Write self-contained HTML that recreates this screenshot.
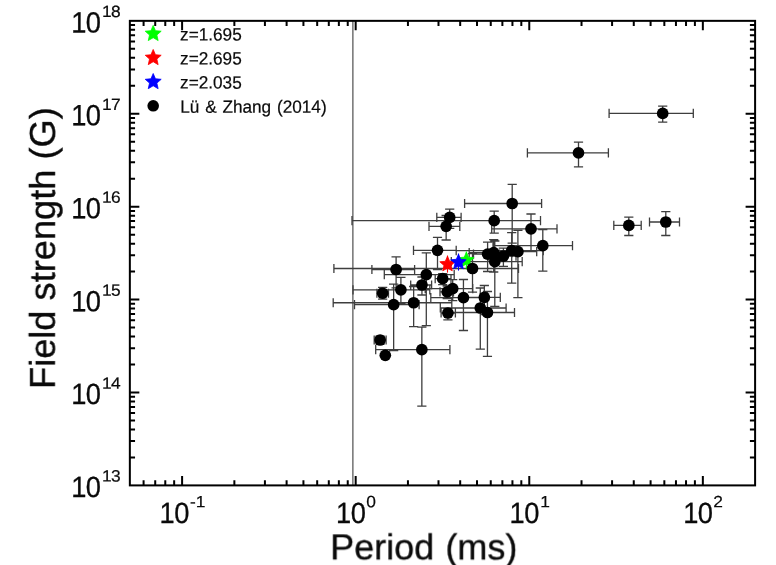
<!DOCTYPE html>
<html lang="en"><head><meta charset="utf-8"><title>Field strength vs Period</title>
<style>html,body{margin:0;padding:0;background:#fff;overflow:hidden}svg{display:block}text{font-family:"Liberation Sans",Arial,sans-serif;text-rendering:geometricPrecision}</style>
</head><body>
<svg width="776" height="565" viewBox="0 0 776 565">
<rect x="0" y="0" width="776" height="565" fill="#fff"/>
<defs><filter id="soft" x="0" y="0" width="100%" height="100%" filterUnits="userSpaceOnUse" color-interpolation-filters="sRGB"><feGaussianBlur stdDeviation="0.38"/></filter></defs>
<g filter="url(#soft)">
<line x1="352.85" y1="20.85" x2="352.85" y2="485.4" stroke="#7a7a7a" stroke-width="1.6"/>
<path d="M609.1 113.4H662.7M609.1 108.8V118M662.7 113.4H693.3M693.3 108.8V118M662.7 106.2V113.4M658.1 106.2H667.3M662.7 113.4V122.2M658.1 122.2H667.3M527.4 152.9H578.5M527.4 148.3V157.5M578.5 152.9H608.4M608.4 148.3V157.5M578.5 142.2V152.9M573.9 142.2H583.1M578.5 152.9V166.8M573.9 166.8H583.1M613.8 225.4H628.8M613.8 220.8V230M628.8 225.4H641.2M641.2 220.8V230M628.8 217.1V225.4M624.2 217.1H633.4M628.8 225.4V235.5M624.2 235.5H633.4M649.5 222H665.8M649.5 217.4V226.6M665.8 222H679.5M679.5 217.4V226.6M665.8 211.6V222M661.2 211.6H670.4M665.8 222V235.5M661.2 235.5H670.4M464.6 203.5H512.2M464.6 198.9V208.1M512.2 203.5H541.6M541.6 198.9V208.1M512.2 184.3V203.5M507.6 184.3H516.8M512.2 203.5V243.1M507.6 243.1H516.8M352 220.7H494.2M352 216.1V225.3M494.2 220.7H540.5M540.5 216.1V225.3M494.2 211.2V220.7M489.6 211.2H498.8M494.2 220.7V233.1M489.6 233.1H498.8M436.8 217.4H449.7M436.8 212.8V222M449.7 217.4H461.1M461.1 212.8V222M449.7 209.1V217.4M445.1 209.1H454.3M449.7 217.4V228.4M445.1 228.4H454.3M429 226.3H446.15M429 221.7V230.9M446.15 226.3H459.8M459.8 221.7V230.9M446.15 215.5V226.3M441.55 215.5H450.75M446.15 226.3V240M441.55 240H450.75M491.7 228.8H531M491.7 224.2V233.4M531 228.8H557M557 224.2V233.4M531 214V228.8M526.4 214H535.6M531 228.8V250.8M526.4 250.8H535.6M493 245.7H542.8M493 241.1V250.3M542.8 245.7H572.5M572.5 241.1V250.3M542.8 229.7V245.7M538.2 229.7H547.4M542.8 245.7V271.1M538.2 271.1H547.4M413.5 250.3H437.5M413.5 245.7V254.9M437.5 250.3H456.2M456.2 245.7V254.9M437.5 237.4V250.3M432.9 237.4H442.1M437.5 250.3V269.5M432.9 269.5H442.1M456.2 250.6H511.7M456.2 246V255.2M511.7 250.6H543.3M543.3 246V255.2M511.7 232.6V250.6M507.1 232.6H516.3M511.7 250.6V283.1M507.1 283.1H516.3M492.8 251.7H517.9M492.8 247.1V256.3M517.9 251.7H536.7M536.7 247.1V256.3M517.9 230.4V251.7M513.3 230.4H522.5M517.9 251.7V297.7M513.3 297.7H522.5M469.2 252.7H493.7M469.2 248.1V257.3M493.7 252.7H512.2M512.2 248.1V257.3M493.7 239.7V252.7M489.1 239.7H498.3M493.7 252.7V272M489.1 272H498.3M473.5 254.1H487.6M473.5 249.5V258.7M487.6 254.1H499.5M499.5 249.5V258.7M487.6 242.1V254.1M483 242.1H492.2M487.6 254.1V271.5M483 271.5H492.2M489 256.2H503.4M489 251.6V260.8M503.4 256.2H516M516 251.6V260.8M503.4 248.2V256.2M498.8 248.2H508M503.4 256.2V266.4M498.8 266.4H508M451.3 261.7H494.8M451.3 257.1V266.3M494.8 261.7H522.2M522.2 257.1V266.3M494.8 241V261.7M490.2 241H499.4M494.8 261.7V306.3M490.2 306.3H499.4M333.9 268.5H472.5M333.9 263.9V273.1M472.5 268.5H518.5M518.5 263.9V273.1M472.5 253.7V268.5M467.9 253.7H477.1M472.5 268.5V292.1M467.9 292.1H477.1M371.9 269.5H396.1M371.9 264.9V274.1M396.1 269.5H414.6M414.6 264.9V274.1M396.1 256.9V269.5M391.5 256.9H400.7M396.1 269.5V287.8M391.5 287.8H400.7M384.3 274.6H426.3M384.3 270V279.2M426.3 274.6H454.2M454.2 270V279.2M426.3 252.9V274.6M421.7 252.9H430.9M426.3 274.6V325.6M421.7 325.6H430.9M435.2 278.7H442.7M435.2 274.1V283.3M442.7 278.7H451M451 274.1V283.3M442.7 273.6V278.7M438.1 273.6H447.3M442.7 278.7V284.7M438.1 284.7H447.3M410.7 285H421.95M410.7 280.4V289.6M421.95 285H431.6M431.6 280.4V289.6M421.95 277V285M417.35 277H426.55M421.95 285V295M417.35 295H426.55M425.2 288.6H452.7M425.2 284V293.2M452.7 288.6H472.8M472.8 284V293.2M452.7 279.7V288.6M448.1 279.7H457.3M452.7 288.6V300.6M448.1 300.6H457.3M353 289.8H400.9M353 285.2V294.4M400.9 289.8H429.8M429.8 285.2V294.4M400.9 277.4V289.8M396.3 277.4H405.5M400.9 289.8V304M396.3 304H405.5M440 291.9H447.2M440 287.3V296.5M447.2 291.9H453.5M453.5 287.3V296.5M447.2 286V291.9M442.6 286H451.8M447.2 291.9V298.5M442.6 298.5H451.8M376.9 293.25H382.65M376.9 288.65V297.85M382.65 293.25H388.5M388.5 288.65V297.85M382.65 287.4V293.25M378.05 287.4H387.25M382.65 293.25V299.2M378.05 299.2H387.25M430.8 297.55H463.45M430.8 292.95V302.15M463.45 297.55H486.1M486.1 292.95V302.15M463.45 279.5V297.55M458.85 279.5H468.05M463.45 297.55V330.5M458.85 330.5H468.05M463.9 297.4H484.35M463.9 292.8V302M484.35 297.4H500.3M500.3 292.8V302M484.35 285.5V297.4M479.75 285.5H488.95M484.35 297.4V314.7M479.75 314.7H488.95M333.2 302.75H413.65M333.2 298.15V307.35M413.65 302.75H451.8M451.8 298.15V307.35M413.65 286.5V302.75M409.05 286.5H418.25M413.65 302.75V326.6M409.05 326.6H418.25M354.5 304.65H393.65M354.5 300.05V309.25M393.65 304.65H419.1M419.1 300.05V309.25M393.65 284.2V304.65M389.05 284.2H398.25M393.65 304.65V350.7M389.05 350.7H398.25M440.3 308H480.3M440.3 303.4V312.6M480.3 308H506.1M506.1 303.4V312.6M480.3 288V308M475.7 288H484.9M480.3 308V349.2M475.7 349.2H484.9M444.7 312.5H487.45M444.7 307.9V317.1M487.45 312.5H514.5M514.5 307.9V317.1M487.45 291.5V312.5M482.85 291.5H492.05M487.45 312.5V356.4M482.85 356.4H492.05M441.1 313H447.9M441.1 308.4V317.6M447.9 313H455.4M455.4 308.4V317.6M447.9 308.4V313M443.3 308.4H452.5M447.9 313V319.9M443.3 319.9H452.5M374.2 340H380.1M374.2 335.4V344.6M380.1 340H386.1M386.1 335.4V344.6M380.1 336.2V340M375.5 336.2H384.7M380.1 340V344M375.5 344H384.7M375.7 349.7H421.85M375.7 345.1V354.3M421.85 349.7H449.9M449.9 345.1V354.3M421.85 327.1V349.7M417.25 327.1H426.45M421.85 349.7V406.1M417.25 406.1H426.45" fill="none" stroke="#3e3e3e" stroke-width="1.3"/>
<path d="M466.4 251.5V269.3" stroke="#00ff00" stroke-width="1.1" fill="none"/>
<polygon points="466.40,252.10 468.59,257.19 474.10,257.70 469.94,261.35 471.16,266.75 466.40,263.93 461.64,266.75 462.86,261.35 458.70,257.70 464.21,257.19" fill="#00ff00" stroke="#00ff00" stroke-width="0.8" stroke-linejoin="round"/>
<path d="M447.5 255.5V272.6" stroke="#ff0000" stroke-width="1.1" fill="none"/>
<polygon points="447.50,256.20 449.69,261.29 455.20,261.80 451.04,265.45 452.26,270.85 447.50,268.03 442.74,270.85 443.96,265.45 439.80,261.80 445.31,261.29" fill="#ff0000" stroke="#ff0000" stroke-width="0.8" stroke-linejoin="round"/>
<path d="M458.5 253.5V270.6" stroke="#0000ff" stroke-width="1.1" fill="none"/>
<polygon points="458.50,254.20 460.69,259.29 466.20,259.80 462.04,263.45 463.26,268.85 458.50,266.03 453.74,268.85 454.96,263.45 450.80,259.80 456.31,259.29" fill="#0000ff" stroke="#0000ff" stroke-width="0.8" stroke-linejoin="round"/>
<circle cx="662.7" cy="113.4" r="5.85" fill="#000"/>
<circle cx="578.5" cy="152.9" r="5.85" fill="#000"/>
<circle cx="628.8" cy="225.4" r="5.85" fill="#000"/>
<circle cx="665.8" cy="222.0" r="5.85" fill="#000"/>
<circle cx="512.2" cy="203.5" r="5.85" fill="#000"/>
<circle cx="494.2" cy="220.7" r="5.85" fill="#000"/>
<circle cx="449.7" cy="217.4" r="5.85" fill="#000"/>
<circle cx="446.15" cy="226.3" r="5.85" fill="#000"/>
<circle cx="531.0" cy="228.8" r="5.85" fill="#000"/>
<circle cx="542.8" cy="245.7" r="5.85" fill="#000"/>
<circle cx="437.5" cy="250.3" r="5.85" fill="#000"/>
<circle cx="511.7" cy="250.6" r="5.85" fill="#000"/>
<circle cx="517.9" cy="251.7" r="5.85" fill="#000"/>
<circle cx="493.7" cy="252.7" r="5.85" fill="#000"/>
<circle cx="487.6" cy="254.1" r="5.85" fill="#000"/>
<circle cx="503.4" cy="256.2" r="5.85" fill="#000"/>
<circle cx="494.8" cy="261.7" r="5.85" fill="#000"/>
<circle cx="472.5" cy="268.5" r="5.85" fill="#000"/>
<circle cx="396.1" cy="269.5" r="5.85" fill="#000"/>
<circle cx="426.3" cy="274.6" r="5.85" fill="#000"/>
<circle cx="442.7" cy="278.7" r="5.85" fill="#000"/>
<circle cx="421.95" cy="285.0" r="5.85" fill="#000"/>
<circle cx="452.7" cy="288.6" r="5.85" fill="#000"/>
<circle cx="400.9" cy="289.8" r="5.85" fill="#000"/>
<circle cx="447.2" cy="291.9" r="5.85" fill="#000"/>
<circle cx="382.65" cy="293.25" r="5.85" fill="#000"/>
<circle cx="463.45" cy="297.55" r="5.85" fill="#000"/>
<circle cx="484.35" cy="297.4" r="5.85" fill="#000"/>
<circle cx="413.65" cy="302.75" r="5.85" fill="#000"/>
<circle cx="393.65" cy="304.65" r="5.85" fill="#000"/>
<circle cx="480.3" cy="308.0" r="5.85" fill="#000"/>
<circle cx="487.45" cy="312.5" r="5.85" fill="#000"/>
<circle cx="447.9" cy="313.0" r="5.85" fill="#000"/>
<circle cx="380.1" cy="340.0" r="5.85" fill="#000"/>
<circle cx="385.3" cy="355.3" r="5.85" fill="#000"/>
<circle cx="421.85" cy="349.7" r="5.85" fill="#000"/>
<rect x="129.85" y="20.85" width="625.25" height="464.54999999999995" fill="none" stroke="#000" stroke-width="2.0"/>
<path d="M143.59 485.4v-5.2M143.59 20.85v5.2M155.22 485.4v-5.2M155.22 20.85v5.2M165.28 485.4v-5.2M165.28 20.85v5.2M174.16 485.4v-5.2M174.16 20.85v5.2M182.10 485.4v-9.5M182.10 20.85v9.5M234.36 485.4v-5.2M234.36 20.85v5.2M264.92 485.4v-5.2M264.92 20.85v5.2M286.61 485.4v-5.2M286.61 20.85v5.2M303.43 485.4v-5.2M303.43 20.85v5.2M317.18 485.4v-5.2M317.18 20.85v5.2M328.80 485.4v-5.2M328.80 20.85v5.2M338.86 485.4v-5.2M338.86 20.85v5.2M347.74 485.4v-5.2M347.74 20.85v5.2M355.68 485.4v-9.5M355.68 20.85v9.5M407.94 485.4v-5.2M407.94 20.85v5.2M438.50 485.4v-5.2M438.50 20.85v5.2M460.19 485.4v-5.2M460.19 20.85v5.2M477.01 485.4v-5.2M477.01 20.85v5.2M490.76 485.4v-5.2M490.76 20.85v5.2M502.38 485.4v-5.2M502.38 20.85v5.2M512.44 485.4v-5.2M512.44 20.85v5.2M521.32 485.4v-5.2M521.32 20.85v5.2M529.27 485.4v-9.5M529.27 20.85v9.5M581.52 485.4v-5.2M581.52 20.85v5.2M612.08 485.4v-5.2M612.08 20.85v5.2M633.77 485.4v-5.2M633.77 20.85v5.2M650.59 485.4v-5.2M650.59 20.85v5.2M664.34 485.4v-5.2M664.34 20.85v5.2M675.96 485.4v-5.2M675.96 20.85v5.2M686.03 485.4v-5.2M686.03 20.85v5.2M694.90 485.4v-5.2M694.90 20.85v5.2M702.85 485.4v-9.5M702.85 20.85v9.5M129.85 457.43h5.2M755.1 457.43h-5.2M129.85 441.07h5.2M755.1 441.07h-5.2M129.85 429.46h5.2M755.1 429.46h-5.2M129.85 420.46h5.2M755.1 420.46h-5.2M129.85 413.10h5.2M755.1 413.10h-5.2M129.85 406.88h5.2M755.1 406.88h-5.2M129.85 401.49h5.2M755.1 401.49h-5.2M129.85 396.74h5.2M755.1 396.74h-5.2M129.85 392.49h9.5M755.1 392.49h-9.5M129.85 364.52h5.2M755.1 364.52h-5.2M129.85 348.16h5.2M755.1 348.16h-5.2M129.85 336.55h5.2M755.1 336.55h-5.2M129.85 327.55h5.2M755.1 327.55h-5.2M129.85 320.19h5.2M755.1 320.19h-5.2M129.85 313.97h5.2M755.1 313.97h-5.2M129.85 308.58h5.2M755.1 308.58h-5.2M129.85 303.83h5.2M755.1 303.83h-5.2M129.85 299.58h9.5M755.1 299.58h-9.5M129.85 271.61h5.2M755.1 271.61h-5.2M129.85 255.25h5.2M755.1 255.25h-5.2M129.85 243.64h5.2M755.1 243.64h-5.2M129.85 234.64h5.2M755.1 234.64h-5.2M129.85 227.28h5.2M755.1 227.28h-5.2M129.85 221.06h5.2M755.1 221.06h-5.2M129.85 215.67h5.2M755.1 215.67h-5.2M129.85 210.92h5.2M755.1 210.92h-5.2M129.85 206.67h9.5M755.1 206.67h-9.5M129.85 178.70h5.2M755.1 178.70h-5.2M129.85 162.34h5.2M755.1 162.34h-5.2M129.85 150.73h5.2M755.1 150.73h-5.2M129.85 141.73h5.2M755.1 141.73h-5.2M129.85 134.37h5.2M755.1 134.37h-5.2M129.85 128.15h5.2M755.1 128.15h-5.2M129.85 122.76h5.2M755.1 122.76h-5.2M129.85 118.01h5.2M755.1 118.01h-5.2M129.85 113.76h9.5M755.1 113.76h-9.5M129.85 85.79h5.2M755.1 85.79h-5.2M129.85 69.43h5.2M755.1 69.43h-5.2M129.85 57.82h5.2M755.1 57.82h-5.2M129.85 48.82h5.2M755.1 48.82h-5.2M129.85 41.46h5.2M755.1 41.46h-5.2M129.85 35.24h5.2M755.1 35.24h-5.2M129.85 29.85h5.2M755.1 29.85h-5.2M129.85 25.10h5.2M755.1 25.10h-5.2" fill="none" stroke="#000" stroke-width="2.0"/>
<text transform="translate(159.54 522.95) rotate(0.03) scale(0.94 1.01)" font-family="Liberation Sans, Arial, sans-serif" font-size="29" text-anchor="start" fill="#0a0a0a" stroke="#0a0a0a" stroke-width="0.3">1<tspan dx="-0.53">0</tspan></text><text transform="translate(189.91 507.20) rotate(0.03) scale(1.06 0.995)" font-family="Liberation Sans, Arial, sans-serif" font-size="16.4" text-anchor="start" fill="#0a0a0a" stroke="#0a0a0a" stroke-width="0.2">-1</text>
<text transform="translate(336.02 522.95) rotate(0.03) scale(0.94 1.01)" font-family="Liberation Sans, Arial, sans-serif" font-size="29" text-anchor="start" fill="#0a0a0a" stroke="#0a0a0a" stroke-width="0.3">1<tspan dx="-0.53">0</tspan></text><text transform="translate(366.15 507.20) rotate(0.03) scale(1.06 0.995)" font-family="Liberation Sans, Arial, sans-serif" font-size="16.4" text-anchor="start" fill="#0a0a0a" stroke="#0a0a0a" stroke-width="0.2">0</text>
<text transform="translate(509.60 522.95) rotate(0.03) scale(0.94 1.01)" font-family="Liberation Sans, Arial, sans-serif" font-size="29" text-anchor="start" fill="#0a0a0a" stroke="#0a0a0a" stroke-width="0.3">1<tspan dx="-0.53">0</tspan></text><text transform="translate(540.32 507.20) rotate(0.03) scale(1.06 0.995)" font-family="Liberation Sans, Arial, sans-serif" font-size="16.4" text-anchor="start" fill="#0a0a0a" stroke="#0a0a0a" stroke-width="0.2">1</text>
<text transform="translate(683.18 522.95) rotate(0.03) scale(0.94 1.01)" font-family="Liberation Sans, Arial, sans-serif" font-size="29" text-anchor="start" fill="#0a0a0a" stroke="#0a0a0a" stroke-width="0.3">1<tspan dx="-0.53">0</tspan></text><text transform="translate(713.31 507.20) rotate(0.03) scale(1.06 0.995)" font-family="Liberation Sans, Arial, sans-serif" font-size="16.4" text-anchor="start" fill="#0a0a0a" stroke="#0a0a0a" stroke-width="0.2">2</text>
<text transform="translate(71.13 496.95) rotate(0.03) scale(0.94 1.01)" font-family="Liberation Sans, Arial, sans-serif" font-size="29" text-anchor="start" fill="#0a0a0a" stroke="#0a0a0a" stroke-width="0.3">1<tspan dx="-0.53">0</tspan></text><text transform="translate(102.11 481.55) rotate(0.03) scale(1.06 0.995)" font-family="Liberation Sans, Arial, sans-serif" font-size="16.4" text-anchor="start" fill="#0a0a0a" stroke="#0a0a0a" stroke-width="0.2" letter-spacing="-0.8">13</text>
<text transform="translate(71.13 404.04) rotate(0.03) scale(0.94 1.01)" font-family="Liberation Sans, Arial, sans-serif" font-size="29" text-anchor="start" fill="#0a0a0a" stroke="#0a0a0a" stroke-width="0.3">1<tspan dx="-0.53">0</tspan></text><text transform="translate(102.11 388.64) rotate(0.03) scale(1.06 0.995)" font-family="Liberation Sans, Arial, sans-serif" font-size="16.4" text-anchor="start" fill="#0a0a0a" stroke="#0a0a0a" stroke-width="0.2" letter-spacing="-0.8">14</text>
<text transform="translate(71.13 311.13) rotate(0.03) scale(0.94 1.01)" font-family="Liberation Sans, Arial, sans-serif" font-size="29" text-anchor="start" fill="#0a0a0a" stroke="#0a0a0a" stroke-width="0.3">1<tspan dx="-0.53">0</tspan></text><text transform="translate(102.11 295.73) rotate(0.03) scale(1.06 0.995)" font-family="Liberation Sans, Arial, sans-serif" font-size="16.4" text-anchor="start" fill="#0a0a0a" stroke="#0a0a0a" stroke-width="0.2" letter-spacing="-0.8">15</text>
<text transform="translate(71.13 218.22) rotate(0.03) scale(0.94 1.01)" font-family="Liberation Sans, Arial, sans-serif" font-size="29" text-anchor="start" fill="#0a0a0a" stroke="#0a0a0a" stroke-width="0.3">1<tspan dx="-0.53">0</tspan></text><text transform="translate(102.11 202.82) rotate(0.03) scale(1.06 0.995)" font-family="Liberation Sans, Arial, sans-serif" font-size="16.4" text-anchor="start" fill="#0a0a0a" stroke="#0a0a0a" stroke-width="0.2" letter-spacing="-0.8">16</text>
<text transform="translate(71.13 125.31) rotate(0.03) scale(0.94 1.01)" font-family="Liberation Sans, Arial, sans-serif" font-size="29" text-anchor="start" fill="#0a0a0a" stroke="#0a0a0a" stroke-width="0.3">1<tspan dx="-0.53">0</tspan></text><text transform="translate(102.11 109.91) rotate(0.03) scale(1.06 0.995)" font-family="Liberation Sans, Arial, sans-serif" font-size="16.4" text-anchor="start" fill="#0a0a0a" stroke="#0a0a0a" stroke-width="0.2" letter-spacing="-0.8">17</text>
<text transform="translate(71.13 32.40) rotate(0.03) scale(0.94 1.01)" font-family="Liberation Sans, Arial, sans-serif" font-size="29" text-anchor="start" fill="#0a0a0a" stroke="#0a0a0a" stroke-width="0.3">1<tspan dx="-0.53">0</tspan></text><text transform="translate(102.11 17.00) rotate(0.03) scale(1.06 0.995)" font-family="Liberation Sans, Arial, sans-serif" font-size="16.4" text-anchor="start" fill="#0a0a0a" stroke="#0a0a0a" stroke-width="0.2" letter-spacing="-0.8">18</text>
<text transform="translate(330.20 559.30) rotate(0.03) scale(1.0 1.0)" font-family="Liberation Sans, Arial, sans-serif" font-size="36" text-anchor="start" fill="#0a0a0a" stroke="#0a0a0a" stroke-width="0.35" word-spacing="1.2">Period (ms)</text>
<text transform="translate(54.8 389) rotate(-89.97) scale(1.006 1.0)" font-family="Liberation Sans, Arial, sans-serif" font-size="36" fill="#0a0a0a" stroke="#0a0a0a" stroke-width="0.35">Field strength (G)</text>
<polygon points="153.20,25.40 155.47,30.67 161.19,31.20 156.87,34.99 158.14,40.60 153.20,37.66 148.26,40.60 149.53,34.99 145.21,31.20 150.93,30.67" fill="#00ff00" stroke="#00ff00" stroke-width="0.8" stroke-linejoin="round"/>
<text transform="translate(180.10 40.50) rotate(0.03) scale(1.0 1.04)" font-family="Liberation Sans, Arial, sans-serif" font-size="17.2" text-anchor="start" fill="#0a0a0a" stroke="#0a0a0a" stroke-width="0.2">z=1.695</text>
<polygon points="153.20,49.45 155.47,54.72 161.19,55.25 156.87,59.04 158.14,64.65 153.20,61.71 148.26,64.65 149.53,59.04 145.21,55.25 150.93,54.72" fill="#ff0000" stroke="#ff0000" stroke-width="0.8" stroke-linejoin="round"/>
<text transform="translate(180.10 64.55) rotate(0.03) scale(1.0 1.04)" font-family="Liberation Sans, Arial, sans-serif" font-size="17.2" text-anchor="start" fill="#0a0a0a" stroke="#0a0a0a" stroke-width="0.2">z=2.695</text>
<polygon points="153.20,73.50 155.47,78.77 161.19,79.30 156.87,83.09 158.14,88.70 153.20,85.76 148.26,88.70 149.53,83.09 145.21,79.30 150.93,78.77" fill="#0000ff" stroke="#0000ff" stroke-width="0.8" stroke-linejoin="round"/>
<text transform="translate(180.10 88.60) rotate(0.03) scale(1.0 1.04)" font-family="Liberation Sans, Arial, sans-serif" font-size="17.2" text-anchor="start" fill="#0a0a0a" stroke="#0a0a0a" stroke-width="0.2">z=2.035</text>
<circle cx="153.2" cy="105.8" r="5.8" fill="#000"/>
<text transform="translate(180.30 112.70) rotate(0.03) scale(1.0 1.03)" font-family="Liberation Sans, Arial, sans-serif" font-size="17.2" text-anchor="start" fill="#0a0a0a" stroke="#0a0a0a" stroke-width="0.2" word-spacing="1">Lü &amp; Zhang (2014)</text>
</g>
</svg>
</body></html>
